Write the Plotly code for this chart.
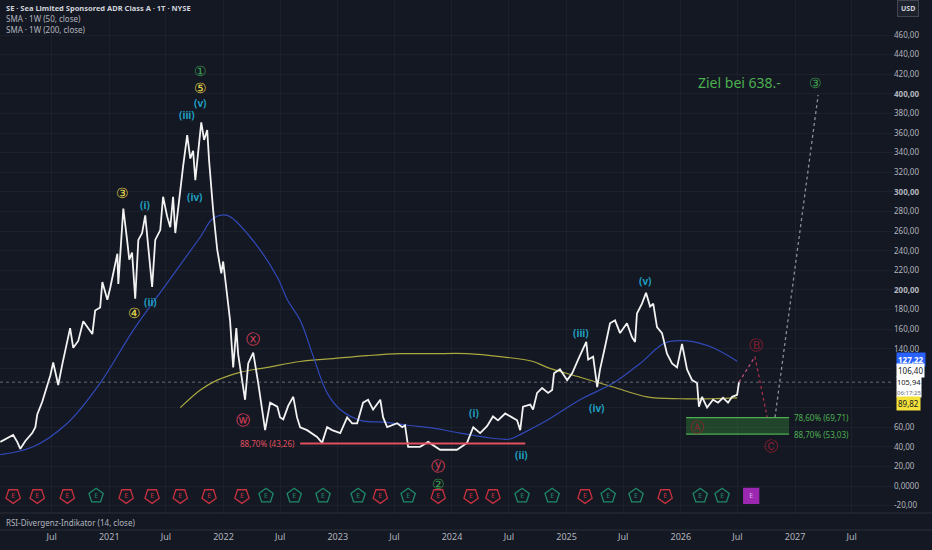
import plotly.graph_objects as go

# SE daily close
price_dates = ["2020-01-19", "2020-02-10", "2020-02-29", "2020-03-13", "2020-03-23", "2020-04-08",
               "2020-04-30", "2020-05-10", "2020-05-16", "2020-06-01", "2020-06-17", "2020-06-27",
               "2020-07-06", "2020-07-13", "2020-07-22", "2020-08-04", "2020-08-20", "2020-08-29",
               "2020-09-08", "2020-09-24", "2020-10-10", "2020-10-26", "2020-11-08", "2020-11-17",
               "2020-12-03", "2020-12-10", "2020-12-26", "2021-01-04", "2021-01-14", "2021-01-27",
               "2021-01-30", "2021-02-15", "2021-02-27", "2021-03-06", "2021-03-15", "2021-03-25",
               "2021-04-04", "2021-04-16", "2021-04-26", "2021-05-06", "2021-05-18", "2021-05-28",
               "2021-06-13", "2021-06-22", "2021-07-05", "2021-07-15", "2021-07-24", "2021-07-31",
               "2021-08-16", "2021-08-25", "2021-09-07", "2021-09-17", "2021-09-26", "2021-10-03",
               "2021-10-12", "2021-10-22", "2021-10-31", "2021-11-10", "2021-11-16", "2021-11-29",
               "2021-12-12", "2021-12-25", "2021-12-31", "2022-01-13", "2022-01-22", "2022-02-01",
               "2022-02-11", "2022-02-17", "2022-03-11", "2022-03-21", "2022-04-06", "2022-04-22",
               "2022-05-14", "2022-05-30", "2022-06-22", "2022-07-01", "2022-07-11", "2022-07-27",
               "2022-08-12", "2022-08-24", "2022-09-03", "2022-09-25", "2022-10-27", "2022-11-12",
               "2022-11-28", "2022-12-14", "2023-01-09", "2023-01-31", "2023-02-16", "2023-03-04",
               "2023-03-23", "2023-04-08", "2023-04-24", "2023-05-17", "2023-05-26", "2023-06-08",
               "2023-07-10", "2023-07-26", "2023-08-04", "2023-08-14", "2023-09-21", "2023-10-17",
               "2023-11-24", "2024-01-17", "2024-02-18", "2024-03-09", "2024-03-31", "2024-04-22",
               "2024-05-11", "2024-05-27", "2024-06-19", "2024-07-11", "2024-07-27", "2024-08-06",
               "2024-08-15", "2024-09-07", "2024-09-16", "2024-09-29", "2024-10-15", "2024-11-03",
               "2024-11-16", "2024-11-22", "2024-12-11", "2025-01-03", "2025-01-19", "2025-02-07",
               "2025-02-20", "2025-03-05", "2025-03-11", "2025-03-27", "2025-04-09", "2025-04-18",
               "2025-05-04", "2025-05-20", "2025-06-05", "2025-06-21", "2025-07-13", "2025-07-29",
               "2025-08-08", "2025-08-14", "2025-08-30", "2025-09-12", "2025-09-25", "2025-10-05",
               "2025-10-17", "2025-11-02", "2025-11-18", "2025-12-04", "2025-12-20", "2026-01-05",
               "2026-01-21", "2026-02-06", "2026-02-22", "2026-02-28", "2026-03-10", "2026-03-26",
               "2026-04-14", "2026-04-30", "2026-05-16", "2026-06-01", "2026-06-14", "2026-06-30",
               "2026-07-06"]
price_vals = [45, 49, 52, 45, 38, 46,
              54, 60, 73, 86, 103, 113,
              126, 116, 103, 124, 148, 161,
              141, 148, 168, 161, 155, 179,
              182, 208, 190, 202, 217, 237,
              206, 283, 251, 231, 238, 191,
              251, 258, 276, 240, 203, 251,
              261, 295, 275, 264, 295, 258,
              305, 326, 358, 334, 342, 312,
              340, 371, 353, 363, 332, 281,
              241, 217, 229, 190, 169, 121,
              161, 134, 88, 125, 136, 105,
              57, 85, 81, 70, 68, 82,
              91, 70, 60, 57, 50, 44,
              60, 57, 54, 70, 64, 64,
              85, 88, 78, 88, 70, 60,
              64, 60, 62, 40, 40, 45,
              37, 37, 44, 60, 54, 61,
              71, 67, 74, 70, 67, 57,
              81, 83, 78, 95, 100, 95,
              98, 115, 119, 108, 115, 129,
              139, 147, 129, 132, 101, 119,
              142, 166, 169, 156, 166, 152,
              147, 176, 186, 197, 183, 186,
              162, 156, 135, 125, 121, 145,
              119, 108, 105, 81, 91, 80,
              88, 85, 90, 85, 91, 93,
              105.94]

# SMA 1W (50)
sma50_dates = ["2020-01-19", "2020-05-03", "2020-08-20", "2020-12-03", "2021-03-19", "2021-07-05",
               "2021-10-19", "2021-11-29", "2022-01-13", "2022-03-27", "2022-06-22", "2022-07-24",
               "2022-09-03", "2022-10-15", "2022-11-28", "2023-01-09", "2023-03-14", "2023-06-08",
               "2023-08-11", "2023-11-02", "2024-01-27", "2024-05-02", "2024-07-05", "2024-08-15",
               "2024-10-31", "2025-02-13", "2025-05-30", "2025-08-24", "2025-11-12", "2026-01-21",
               "2026-04-14", "2026-06-30"]
sma50_vals = [32, 40, 64, 105, 159, 207,
              254, 273, 276, 254, 213, 190,
              169, 132, 95, 78, 67, 65,
              62, 59, 54, 49, 48, 54,
              67, 88, 105, 125, 146, 148,
              141, 127.22]

# SMA 1W (200)
sma200_dates = ["2021-08-16", "2021-10-19", "2021-12-12", "2022-02-23", "2022-05-21", "2022-09-03",
                "2022-12-17", "2023-04-05", "2023-07-19", "2023-11-02", "2024-02-18", "2024-06-03",
                "2024-09-16", "2024-10-31", "2025-02-13", "2025-05-30", "2025-09-15", "2025-12-30",
                "2026-04-14", "2026-06-30"]
sma200_vals = [80, 98, 108, 116, 121, 127,
               130, 133, 135, 135, 135, 132,
               127, 121, 111, 101, 91, 89,
               89, 89.82]

# projected path: price -> B -> C -> wave 3
proj_b_dates = ["2026-07-06", "2026-08-26"]
proj_b_vals = [105.94, 132]
proj_c_dates = ["2026-08-26", "2026-10-04"]
proj_c_vals = [132, 70]
proj_3_dates = ["2026-10-29", "2027-03-16"]
proj_3_vals = [70, 399]

# support levels
fib_low_line = ["2022-09-03", "2024-08-22"]
fib_low_val = 43.26
box_dates = ["2026-01-18", "2026-12-13"]
box_top = 69.71
box_bottom = 53.03

# wave labels (text, date, value)
green_labels = [("①", "2021-10-19", 424), ("②", "2023-11-18", 3), ("③", "2027-03-06", 412)]
yellow_labels = [("③", "2021-02-12", 299), ("④", "2021-03-22", 177), ("⑤", "2021-10-19", 406)]
cyan_labels = [("(i)", "2021-04-26", 287), ("(ii)", "2021-05-12", 188), ("(iii)", "2021-09-07", 378),
               ("(iv)", "2021-09-29", 295), ("(v)", "2021-10-19", 391), ("(i)", "2024-03-12", 75),
               ("(ii)", "2024-08-09", 32), ("(iii)", "2025-02-17", 156), ("(iv)", "2025-04-06", 80),
               ("(v)", "2025-09-09", 209)]
red_labels = [("ⓦ", "2022-03-05", 68), ("ⓧ", "2022-04-06", 150), ("ⓨ", "2023-11-18", 21)]
dim_red_labels = [("Ⓐ", "2026-02-22", 61), ("Ⓑ", "2026-08-30", 144), ("Ⓒ", "2026-10-16", 41)]

# earnings events: r = red, g = green, p = upcoming
earn_dates = ["2020-02-29", "2020-05-16", "2020-08-20", "2020-11-20", "2021-02-24", "2021-05-18",
              "2021-08-16", "2021-11-16", "2022-03-01", "2022-05-17", "2022-08-15", "2022-11-15",
              "2023-03-07", "2023-05-17", "2023-08-14", "2023-11-18", "2024-03-02", "2024-05-11",
              "2024-08-12", "2024-11-16", "2025-03-01", "2025-05-14", "2025-08-11", "2025-11-12",
              "2026-03-04", "2026-05-13", "2026-08-14"]
earn_kind = ["r", "r", "r", "g", "r", "r", "r", "r", "r", "g", "g", "g", "g", "r", "g", "r",
             "r", "r", "g", "g", "r", "g", "g", "r", "g", "g", "p"]
earn_level = -10

tick_dates = ["2020-07-01", "2021-01-01", "2021-07-01", "2022-01-01", "2022-07-01", "2023-01-01",
              "2023-07-01", "2024-01-01", "2024-07-01", "2025-01-01", "2025-07-01", "2026-01-01",
              "2026-07-01", "2027-01-01", "2027-07-01"]
tick_names = ["Jul", "2021", "Jul", "2022", "Jul", "2023", "Jul", "2024", "Jul", "2025", "Jul",
              "2026", "Jul", "2027", "Jul"]
price_ticks = list(range(-20, 461, 20))
hidden_ticks = [80, 100, 120]  # covered by the price tags


def tick_label(v):
    if v in hidden_ticks:
        return ""
    if v == 0:
        return "0,0000"
    if v % 100 == 0:
        return f"<b>{v},00</b>"
    return f"{v},00"


BG = "#141823"
FONT = "Noto Sans"

fig = go.Figure()

fig.add_trace(go.Scatter(x=sma200_dates, y=sma200_vals, mode="lines", line=dict(color="#a9a83e", width=1.2, shape="spline")))
fig.add_trace(go.Scatter(x=sma50_dates, y=sma50_vals, mode="lines", line=dict(color="#3149b8", width=1.2, shape="spline")))
fig.add_trace(go.Scatter(x=price_dates, y=price_vals, mode="lines", line=dict(color="#f2f2f2", width=1.8)))

fig.add_trace(go.Scatter(x=fib_low_line, y=[fib_low_val] * 2, mode="lines", line=dict(color="#e0505f", width=2)))

fig.add_trace(go.Scatter(x=proj_b_dates, y=proj_b_vals, mode="lines", line=dict(color="#c0507a", width=1.3, dash="dot")))
fig.add_trace(go.Scatter(x=proj_c_dates, y=proj_c_vals, mode="lines", line=dict(color="#a8304a", width=1.3, dash="dot")))
fig.add_trace(go.Scatter(x=proj_3_dates, y=proj_3_vals, mode="lines", line=dict(color="#8a8f9c", width=1.3, dash="dot")))

# earnings markers
earn_style = {"r": ("#c8313f", "pentagon", 180), "g": ("#1f8a68", "pentagon", 0), "p": ("#9c27b0", "square", 0)}
for k, (col, sym, ang) in earn_style.items():
    xs = [d for d, kk in zip(earn_dates, earn_kind) if kk == k]
    fig.add_trace(go.Scatter(
        x=xs, y=[earn_level] * len(xs), mode="markers+text", text=["E"] * len(xs),
        textposition="middle center", textfont=dict(size=7, color=col if k != "p" else "#e0b0f0", family=FONT),
        marker=dict(symbol=sym, angle=ang, size=15, color=BG if k != "p" else col,
                    line=dict(color=col, width=1.3)),
    ))

fig.add_shape(type="rect", x0=box_dates[0], x1=box_dates[1], y0=box_bottom, y1=box_top,
              fillcolor="rgba(46,125,50,0.45)", line=dict(width=0), layer="below")
for v in (box_top, box_bottom):
    fig.add_shape(type="line", x0=box_dates[0], x1=box_dates[1], y0=v, y1=v, line=dict(color="#4caf50", width=1.3))

# last price line
fig.add_shape(type="line", xref="paper", x0=0, x1=1, y0=price_vals[-1], y1=price_vals[-1],
              line=dict(color="rgba(170,175,185,0.55)", width=1, dash="dot"))

# pane separators
for py in (17 / 530, 0):
    fig.add_shape(type="line", xref="paper", yref="paper", x0=0, x1=1.05, y0=py, y1=py,
                  line=dict(color="#2a2e39", width=1))

ann = []


def lab(items, color, size, bold=False):
    for t, d, v in items:
        ann.append(dict(x=d, y=v, text=f"<b>{t}</b>" if bold else t, showarrow=False,
                        font=dict(color=color, size=size, family=FONT)))


lab(green_labels, "#3f9e4f", 14)
lab(yellow_labels, "#e6d54a", 14)
lab(cyan_labels, "#1f9fc0", 10, bold=True)
lab(red_labels, "#e0415c", 14)
lab(dim_red_labels, "#8e1f30", 14)

ann.append(dict(x="2026-07-09", y=412, text="Ziel bei 638.-", showarrow=False,
                font=dict(color="#4caf50", size=14, family=FONT)))
ann.append(dict(x=fib_low_line[0], y=fib_low_val, text="88,70% (43,26)", showarrow=False, xanchor="right", xshift=-3,
                font=dict(color="#e0505f", size=8, family=FONT)))
ann.append(dict(x=box_dates[1], y=box_top, text="78,60% (69,71)", showarrow=False, xanchor="left", xshift=3,
                font=dict(color="#4caf50", size=8, family=FONT)))
ann.append(dict(x=box_dates[1], y=box_bottom, text="88,70% (53,03)", showarrow=False, xanchor="left", xshift=3,
                font=dict(color="#4caf50", size=8, family=FONT)))

# legend text
ann.append(dict(xref="paper", yref="paper", x=0.005, y=1 - 8 / 530, xanchor="left", yanchor="middle", showarrow=False,
                text="<b>SE · Sea Limited Sponsored ADR Class A · 1T · NYSE</b>", font=dict(color="#d1d4dc", size=7.5, family=FONT)))
ann.append(dict(xref="paper", yref="paper", x=0.005, y=1 - 19 / 530, xanchor="left", yanchor="middle", showarrow=False,
                text="SMA · 1W (50, close)", font=dict(color="#b2b5be", size=8, family=FONT)))
ann.append(dict(xref="paper", yref="paper", x=0.005, y=1 - 30 / 530, xanchor="left", yanchor="middle", showarrow=False,
                text="SMA · 1W (200, close)", font=dict(color="#b2b5be", size=8, family=FONT)))
ann.append(dict(xref="paper", yref="paper", x=0.005, y=8 / 530, xanchor="left", yanchor="middle", showarrow=False,
                text="RSI-Divergenz-Indikator (14, close)", font=dict(color="#b2b5be", size=8, family=FONT)))

# price axis labels
ann.append(dict(xref="paper", yref="paper", x=1.005, y=1 - 9 / 530, xanchor="left", yanchor="middle", showarrow=False,
                text="<b>USD</b>", bgcolor="#1e222d", bordercolor="#434651", borderwidth=1, borderpad=3,
                font=dict(color="#d1d4dc", size=7, family=FONT)))
ann.append(dict(xref="paper", x=1.003, y=sma50_vals[-1], yshift=2, xanchor="left", showarrow=False, text="<b>127,22</b>",
                bgcolor="#2962ff", borderpad=1, font=dict(color="#ffffff", size=8, family=FONT)))
ann.append(dict(xref="paper", x=1.003, y=106.40, yshift=11, xanchor="left", showarrow=False, text="106,40",
                bgcolor="#ffffff", borderpad=1, font=dict(color="#131722", size=8, family=FONT)))
ann.append(dict(xref="paper", x=1.003, y=price_vals[-1], yshift=-5, xanchor="left", showarrow=False,
                text="105,94<br><span style='font-size:6px;color:#6a6d78'>06:17:25</span>",
                bgcolor="#ffffff", borderpad=0, align="left", font=dict(color="#131722", size=7.5, family=FONT)))
ann.append(dict(xref="paper", x=1.003, y=sma200_vals[-1], yshift=-6, xanchor="left", showarrow=False, text="89,82",
                bgcolor="#f5e23b", borderpad=1, font=dict(color="#131722", size=8, family=FONT)))

fig.update_layout(
    width=932, height=550,
    margin=dict(l=0, r=39, t=0, b=20),
    paper_bgcolor=BG, plot_bgcolor=BG,
    showlegend=False,
    annotations=ann,
    xaxis=dict(range=["2020-01-18", "2027-11-10"], tickvals=tick_dates, ticktext=tick_names,
               showgrid=True, gridcolor="rgba(255,255,255,0.035)", zeroline=False,
               tickfont=dict(color="#b2b5be", size=9, family=FONT), ticks="",
               anchor="free", position=0, showline=False),
    yaxis=dict(range=[-27.5, 495.7], domain=[17 / 530, 1], side="right",
               tickvals=price_ticks, ticktext=[tick_label(v) for v in price_ticks],
               showgrid=True, gridcolor="rgba(255,255,255,0.035)", zeroline=False,
               tickfont=dict(color="#b2b5be", size=8, family=FONT), ticks="", showline=False),
)

fig.write_html("out.html", config={"displayModeBar": False},
               post_script="document.body.style.margin='0';document.body.style.background='" + BG + "';")
